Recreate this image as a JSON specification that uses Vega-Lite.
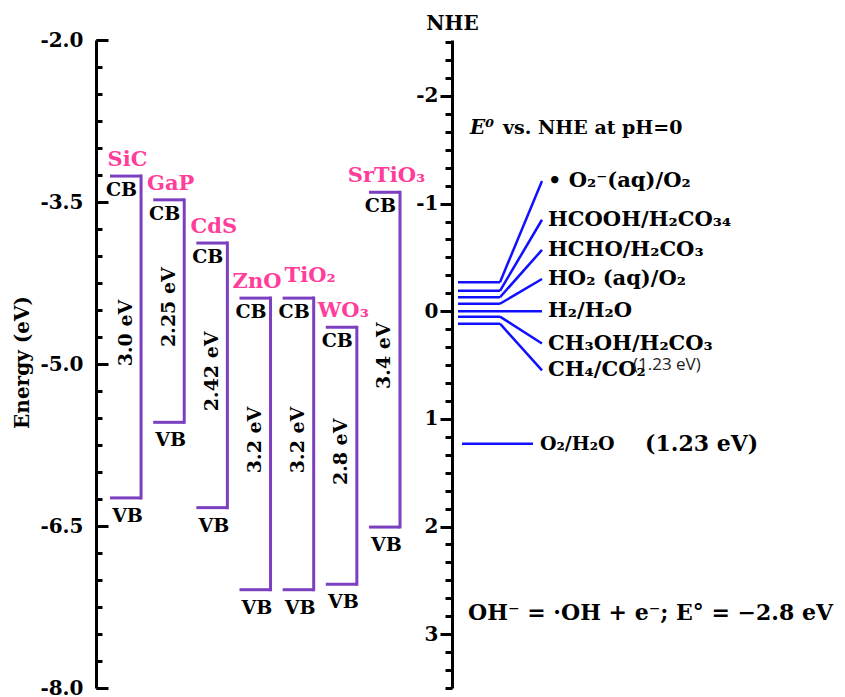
{
  "$schema": "https://vega.github.io/schema/vega-lite/v6.json",
  "width": 749,
  "height": 648,
  "autosize": {"type": "none"},
  "padding": {"left": 96, "top": 40, "right": 0, "bottom": 9},
  "background": "white",
  "config": {
    "view": {"stroke": null},
    "font": "DejaVu Serif",
    "text": {"font": "DejaVu Serif", "fontWeight": "bold", "color": "black"}
  },
  "datasets": {
    "materials": [
      {"material": "SiC", "CB": -3.26, "VB": -6.24, "gap": "3.0 eV"},
      {"material": "GaP", "CB": -3.48, "VB": -5.54, "gap": "2.25 eV"},
      {"material": "CdS", "CB": -3.88, "VB": -6.33, "gap": "2.42 eV"},
      {"material": "ZnO", "CB": -4.39, "VB": -7.09, "gap": "3.2 eV"},
      {"material": "TiO₂", "CB": -4.39, "VB": -7.09, "gap": "3.2 eV"},
      {"material": "WO₃", "CB": -4.66, "VB": -7.04, "gap": "2.8 eV"},
      {"material": "SrTiO₃", "CB": -3.41, "VB": -6.51, "gap": "3.4 eV"}
    ],
    "couples": [
      {"couple": "• O₂⁻(aq)/O₂", "E": -0.27, "labelE": -1.21},
      {"couple": "HCOOH/H₂CO₃₄", "E": -0.19, "labelE": -0.85},
      {"couple": "HCHO/H₂CO₃", "E": -0.13, "labelE": -0.57},
      {"couple": "HO₂ (aq)/O₂", "E": -0.07, "labelE": -0.3},
      {"couple": "H₂/H₂O", "E": 0.0, "labelE": 0.0},
      {"couple": "CH₃OH/H₂CO₃", "E": 0.05, "labelE": 0.3},
      {"couple": "CH₄/CO₂", "E": 0.115, "labelE": 0.55}
    ],
    "water": [
      {"couple": "O₂/H₂O", "E": 1.23, "note": "(1.23 eV)"}
    ]
  },
  "layer": [
    {
      "data": {"name": "materials"},
      "encoding": {
        "x": {
          "field": "material",
          "type": "nominal",
          "scale": {
            "type": "band",
            "domain": ["SiC", "GaP", "CdS", "ZnO", "TiO₂", "WO₃", "SrTiO₃"],
            "range": [14, 304],
            "paddingInner": 0.28,
            "paddingOuter": 0
          },
          "axis": null
        }
      },
      "layer": [
        {
          "mark": {"type": "tick", "thickness": 3, "size": 31, "color": "#7b3fc0", "opacity": 1},
          "encoding": {
            "y": {
              "field": "CB",
              "type": "quantitative",
              "scale": {"domain": [-8, -2], "nice": false, "zero": false},
              "axis": {
                "orient": "left",
                "values": [-8, -7.75, -7.5, -7.25, -7, -6.75, -6.5, -6.25, -6, -5.75, -5.5, -5.25, -5, -4.75, -4.5, -4.25, -4, -3.75, -3.5, -3.25, -3, -2.75, -2.5, -2.25, -2],
                "labels": false,
                "tickSize": -6,
                "tickWidth": 3,
                "tickColor": "black",
                "domainWidth": 3,
                "domainColor": "black",
                "grid": false,
                "title": null
              }
            }
          }
        },
        {
          "mark": {"type": "tick", "thickness": 3, "size": 31, "color": "#7b3fc0", "opacity": 1},
          "encoding": {
            "y": {
              "field": "VB",
              "type": "quantitative",
              "axis": {
                "orient": "left",
                "values": [-8, -6.5, -5, -3.5, -2],
                "labelExpr": "'-' + format(abs(datum.value), '.1f')",
                "tickSize": -12,
                "tickWidth": 3,
                "tickColor": "black",
                "domain": false,
                "grid": false,
                "labelFont": "DejaVu Serif",
                "labelFontWeight": "bold",
                "labelFontSize": 20,
                "labelColor": "black",
                "labelPadding": 25,
                "labelOverlap": false,
                "labelFlush": false,
                "labelBaseline": "middle",
                "title": "Energy (eV)",
                "titleFont": "DejaVu Serif",
                "titleFontWeight": "bold",
                "titleFontSize": 20,
                "titleColor": "black",
                "titleX": -74,
                "titleY": 322,
                "titleAngle": 270,
                "titleAlign": "center",
                "titleBaseline": "middle"
              }
            }
          }
        },
        {
          "mark": {"type": "rule", "strokeWidth": 3, "color": "#7b3fc0", "strokeCap": "square"},
          "encoding": {
            "x": {"field": "material", "type": "nominal", "bandPosition": 1},
            "y": {"field": "CB", "type": "quantitative", "axis": null},
            "y2": {"field": "VB"}
          }
        },
        {
          "transform": [{"filter": "datum.material != 'TiO₂'"}],
          "mark": {"type": "text", "color": "#ff3d9a", "fontSize": 21, "fontWeight": "bold", "align": "center", "baseline": "middle", "dy": -16, "dx": 2},
          "encoding": {
            "y": {"field": "CB", "type": "quantitative", "axis": null},
            "text": {"field": "material"}
          }
        },
        {
          "transform": [{"filter": "datum.material == 'TiO₂'"}],
          "mark": {"type": "text", "color": "#ff3d9a", "fontSize": 21, "fontWeight": "bold", "align": "center", "baseline": "middle", "dy": -22, "dx": 12},
          "encoding": {
            "y": {"field": "CB", "type": "quantitative", "axis": null},
            "text": {"field": "material"}
          }
        },
        {
          "mark": {"type": "text", "text": "CB", "fontSize": 19, "align": "center", "baseline": "middle", "dy": 14, "dx": -4},
          "encoding": {"y": {"field": "CB", "type": "quantitative", "axis": null}}
        },
        {
          "mark": {"type": "text", "text": "VB", "fontSize": 19, "align": "center", "baseline": "middle", "dy": 18, "dx": 2},
          "encoding": {"y": {"field": "VB", "type": "quantitative", "axis": null}}
        },
        {
          "transform": [
            {"fold": ["CB", "VB"], "as": ["band", "level"]},
            {"aggregate": [{"op": "mean", "field": "level", "as": "mid"}], "groupby": ["material", "gap"]}
          ],
          "mark": {"type": "text", "fontSize": 19, "angle": 270, "align": "center", "baseline": "middle", "dx": 4},
          "encoding": {
            "y": {"field": "mid", "type": "quantitative", "axis": null},
            "text": {"field": "gap"}
          }
        }
      ],
      "resolve": {"axis": {"y": "independent"}}
    },
    {
      "data": {"name": "couples"},
      "layer": [
        {
          "mark": {"type": "rule", "color": "#1010ff", "strokeWidth": 2.5},
          "encoding": {
            "x": {"datum": 0.6, "type": "quantitative", "scale": {"domain": [-35.6, 39.3], "nice": false, "zero": false}, "axis": null},
            "x2": {"datum": 4.8},
            "y": {
              "field": "E",
              "type": "quantitative",
              "scale": {"domain": [-2.52, 3.5], "reverse": true, "nice": false, "zero": false},
              "axis": {
                "orient": "left",
                "offset": -356,
                "values": [-2.5, -2.3333, -2.1667, -2, -1.8333, -1.6667, -1.5, -1.3333, -1.1667, -1, -0.8333, -0.6667, -0.5, -0.3333, -0.1667, 0, 0.1667, 0.3333, 0.5, 0.6667, 0.8333, 1, 1.1667, 1.3333, 1.5, 1.6667, 1.8333, 2, 2.1667, 2.3333, 2.5, 2.6667, 2.8333, 3, 3.1667, 3.3333, 3.5],
                "labels": false,
                "tickSize": 7,
                "tickWidth": 3,
                "tickColor": "black",
                "domainWidth": 3,
                "domainColor": "black",
                "grid": false,
                "title": null
              }
            }
          }
        },
        {
          "mark": {"type": "rule", "color": "#1010ff", "strokeWidth": 2.5},
          "encoding": {
            "x": {"datum": 4.8, "type": "quantitative"},
            "x2": {"datum": 9.0},
            "y": {
              "field": "E",
              "type": "quantitative",
              "axis": {
                "orient": "left",
                "offset": -356,
                "values": [-2, -1, 0, 1, 2, 3],
                "labelExpr": "datum.value < 0 ? '-' + abs(datum.value) : '' + datum.value",
                "tickSize": 12,
                "tickWidth": 3,
                "tickColor": "black",
                "domain": false,
                "grid": false,
                "labelFont": "DejaVu Serif",
                "labelFontWeight": "bold",
                "labelFontSize": 20,
                "labelColor": "black",
                "labelPadding": 2,
                "labelOverlap": false,
                "labelFlush": false,
                "labelBaseline": "middle",
                "title": "NHE",
                "titleFont": "DejaVu Serif",
                "titleFontWeight": "bold",
                "titleFontSize": 20,
                "titleColor": "black",
                "titleAngle": 0,
                "titleX": 0,
                "titleY": -17,
                "titleAlign": "center",
                "titleBaseline": "middle"
              }
            },
            "y2": {"field": "labelE"}
          }
        },
        {
          "mark": {"type": "text", "fontSize": 21, "align": "left", "baseline": "middle"},
          "encoding": {
            "x": {"datum": 9.6, "type": "quantitative"},
            "y": {"field": "labelE", "type": "quantitative", "axis": null},
            "text": {"field": "couple"}
          }
        },
        {
          "data": {"name": "water"},
          "layer": [
            {
              "mark": {"type": "rule", "color": "#1010ff", "strokeWidth": 2.5},
              "encoding": {
                "x": {"datum": 1.0, "type": "quantitative"},
                "x2": {"datum": 8.1},
                "y": {"field": "E", "type": "quantitative", "axis": null}
              }
            },
            {
              "mark": {"type": "text", "fontSize": 19, "align": "left", "baseline": "middle"},
              "encoding": {
                "x": {"datum": 8.8, "type": "quantitative"},
                "y": {"field": "E", "type": "quantitative", "axis": null},
                "text": {"field": "couple"}
              }
            },
            {
              "mark": {"type": "text", "fontSize": 22, "align": "left", "baseline": "middle"},
              "encoding": {
                "x": {"datum": 19.3, "type": "quantitative"},
                "y": {"field": "E", "type": "quantitative", "axis": null},
                "text": {"field": "note"}
              }
            },
            {
              "mark": {"type": "text", "text": "(1.23 eV)", "font": "Open Sans", "fontWeight": "normal", "fontSize": 17, "align": "left", "baseline": "middle", "color": "#222222"},
              "encoding": {
                "x": {"datum": 18.1, "type": "quantitative"},
                "y": {"datum": 0.5, "type": "quantitative", "axis": null}
              }
            },
            {
              "mark": {"type": "text", "text": "E⁰", "fontStyle": "italic", "fontSize": 20, "align": "left", "baseline": "middle"},
              "encoding": {
                "x": {"datum": 1.8, "type": "quantitative"},
                "y": {"datum": -1.7, "type": "quantitative", "axis": null}
              }
            },
            {
              "mark": {"type": "text", "text": "vs. NHE at pH=0", "fontSize": 19, "align": "left", "baseline": "middle"},
              "encoding": {
                "x": {"datum": 5.1, "type": "quantitative"},
                "y": {"datum": -1.7, "type": "quantitative", "axis": null}
              }
            },
            {
              "mark": {"type": "text", "text": "OH⁻ = ·OH + e⁻; E° = −2.8 eV", "fontSize": 22, "align": "left", "baseline": "middle"},
              "encoding": {
                "x": {"datum": 1.6, "type": "quantitative"},
                "y": {"datum": 2.8, "type": "quantitative", "axis": null}
              }
            }
          ]
        }
      ],
      "resolve": {"axis": {"y": "independent"}}
    }
  ],
  "resolve": {"scale": {"x": "independent", "y": "independent"}}
}
